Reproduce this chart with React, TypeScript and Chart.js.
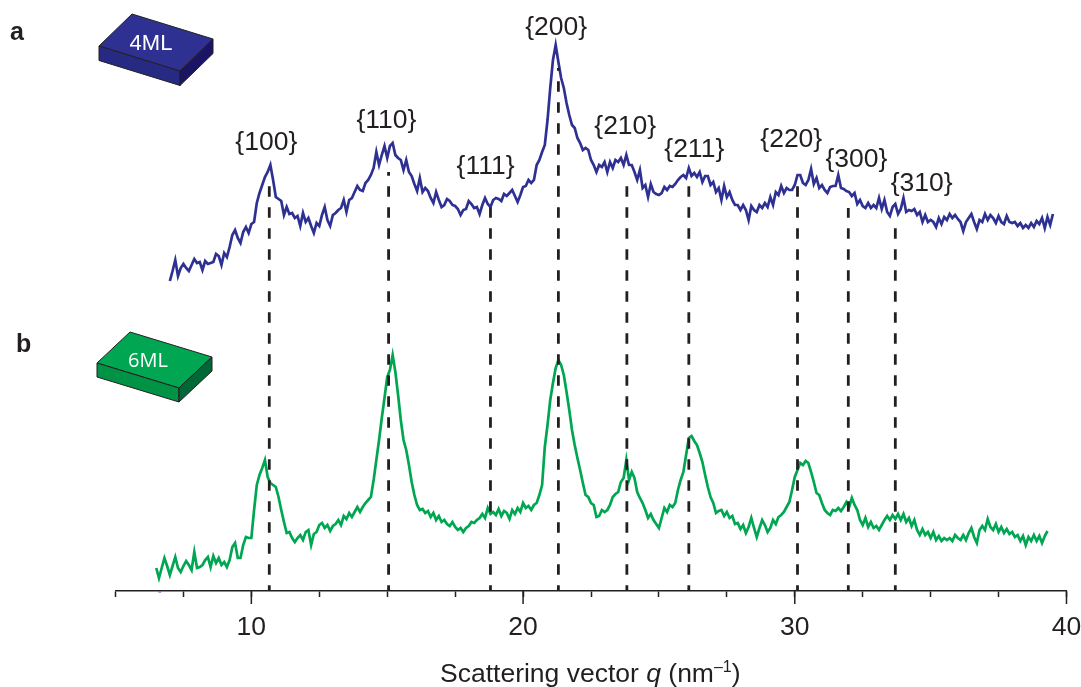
import React, { useEffect, useRef } from "react";
import { Chart, registerables } from "chart.js";

Chart.register(...registerables);

const FONT = '"Liberation Sans", Arial, sans-serif';
const INK = "#231f20";

const qGrid = [
  6.5, 6.6, 6.7, 6.8, 6.9,
  7.0, 7.1, 7.2, 7.3, 7.4, 7.5, 7.6, 7.7, 7.8, 7.9,
  8.0, 8.1, 8.2, 8.3, 8.4, 8.5, 8.6, 8.7, 8.8, 8.9,
  9.0, 9.1, 9.2, 9.3, 9.4, 9.5, 9.6, 9.7, 9.8, 9.9,
  10.0, 10.1, 10.2, 10.3, 10.4, 10.5, 10.6, 10.7, 10.8, 10.9,
  11.0, 11.1, 11.2, 11.3, 11.4, 11.5, 11.6, 11.7, 11.8, 11.9,
  12.0, 12.1, 12.2, 12.3, 12.4, 12.5, 12.6, 12.7, 12.8, 12.9,
  13.0, 13.1, 13.2, 13.3, 13.4, 13.5, 13.6, 13.7, 13.8, 13.9,
  14.0, 14.1, 14.2, 14.3, 14.4, 14.5, 14.6, 14.7, 14.8, 14.9,
  15.0, 15.1, 15.2, 15.3, 15.4, 15.5, 15.6, 15.7, 15.8, 15.9,
  16.0, 16.1, 16.2, 16.3, 16.4, 16.5, 16.6, 16.7, 16.8, 16.9,
  17.0, 17.1, 17.2, 17.3, 17.4, 17.5, 17.6, 17.7, 17.8, 17.9,
  18.0, 18.1, 18.2, 18.3, 18.4, 18.5, 18.6, 18.7, 18.8, 18.9,
  19.0, 19.1, 19.2, 19.3, 19.4, 19.5, 19.6, 19.7, 19.8, 19.9,
  20.0, 20.1, 20.2, 20.3, 20.4, 20.5, 20.6, 20.7, 20.8, 20.9,
  21.0, 21.1, 21.2, 21.3, 21.4, 21.5, 21.6, 21.7, 21.8, 21.9,
  22.0, 22.1, 22.2, 22.3, 22.4, 22.5, 22.6, 22.7, 22.8, 22.9,
  23.0, 23.1, 23.2, 23.3, 23.4, 23.5, 23.6, 23.7, 23.8, 23.9,
  24.0, 24.1, 24.2, 24.3, 24.4, 24.5, 24.6, 24.7, 24.8, 24.9,
  25.0, 25.1, 25.2, 25.3, 25.4, 25.5, 25.6, 25.7, 25.8, 25.9,
  26.0, 26.1, 26.2, 26.3, 26.4, 26.5, 26.6, 26.7, 26.8, 26.9,
  27.0, 27.1, 27.2, 27.3, 27.4, 27.5, 27.6, 27.7, 27.8, 27.9,
  28.0, 28.1, 28.2, 28.3, 28.4, 28.5, 28.6, 28.7, 28.8, 28.9,
  29.0, 29.1, 29.2, 29.3, 29.4, 29.5, 29.6, 29.7, 29.8, 29.9,
  30.0, 30.1, 30.2, 30.3, 30.4, 30.5, 30.6, 30.7, 30.8, 30.9,
  31.0, 31.1, 31.2, 31.3, 31.4, 31.5, 31.6, 31.7, 31.8, 31.9,
  32.0, 32.1, 32.2, 32.3, 32.4, 32.5, 32.6, 32.7, 32.8, 32.9,
  33.0, 33.1, 33.2, 33.3, 33.4, 33.5, 33.6, 33.7, 33.8, 33.9,
  34.0, 34.1, 34.2, 34.3, 34.4, 34.5, 34.6, 34.7, 34.8, 34.9,
  35.0, 35.1, 35.2, 35.3, 35.4, 35.5, 35.6, 35.7, 35.8, 35.9,
  36.0, 36.1, 36.2, 36.3, 36.4, 36.5, 36.6, 36.7, 36.8, 36.9,
  37.0, 37.1, 37.2, 37.3, 37.4, 37.5, 37.6, 37.7, 37.8, 37.9,
  38.0, 38.1, 38.2, 38.3, 38.4, 38.5, 38.6, 38.7, 38.8, 38.9,
  39.0, 39.1, 39.2, 39.3, 39.4, 39.5,
];

const intensity4ML = [
  null, null, null, null, null,
  310, 320, 331, 315, 323, 327, 323, 320, 326, 332,
  328, 329, 321, 330, 327, 328, 329, 337, 335, 326,
  338, 334, 344, 356, 361, 353, 348, 359, 364, 358,
  367, 369, 388, 398, 406, 414, 419, 426, 411, 394,
  392, 390, 376, 384, 377, 378, 373, 375, 365, 378,
  369, 373, 365, 358, 368, 365, 376, 384, 371, 365,
  376, 378, 381, 383, 391, 379, 391, 393, 399, 405,
  401, 400, 408, 411, 416, 423, 439, 426, 436, 445,
  433, 445, 448, 436, 433, 431, 421, 431, 419, 415,
  407, 400, 413, 399, 403, 400, 393, 388, 399, 391,
  384, 386, 392, 390, 386, 385, 382, 376, 381, 382,
  390, 387, 383, 384, 377, 386, 393, 387, 384, 391,
  393, 392, 390, 397, 395, 398, 401, 395, 389, 396,
  404, 405, 411, 408, 411, 426, 431, 439, 446, 471,
  503, 531, 546, 529, 513, 503, 488, 476, 466, 463,
  453, 448, 441, 443, 441, 431, 426, 419, 426, 424,
  429, 419, 429, 423, 431, 429, 433, 426, 436, 426,
  426, 419, 411, 421, 403, 406, 394, 407, 399, 397,
  396, 398, 404, 401, 405, 404, 407, 411, 414, 416,
  413, 423, 415, 418, 414, 419, 409, 415, 415, 406,
  409, 399, 403, 391, 405, 394, 399, 391, 386, 386,
  381, 386, 381, 371, 385, 381, 379, 386, 383, 388,
  384, 394, 386, 399, 396, 405, 398, 403, 401, 401,
  406, 416, 416, 408, 406, 411, 422, 407, 413, 403,
  406, 401, 398, 404, 405, 405, 416, 403, 402, 400,
  399, 395, 398, 387, 391, 385, 383, 388, 383, 386,
  383, 393, 382, 391, 379, 375, 384, 387, 377, 382,
  393, 379, 381, 380, 382, 376, 379, 369, 376, 369,
  371, 369, 364, 373, 367, 374, 371, 377, 373, 376,
  372, 369, 360, 369, 373, 377, 369, 362, 371, 369,
  377, 371, 376, 373, 368, 375, 369, 367, 375, 369,
  368, 369, 365, 368, 363, 366, 363, 368, 364, 370,
  367, 373, 363, 374, 366, 377,
];

const intensity6ML = [
  23, 13, 23, 33, 25,
  16, 25, 34, 23, 19, 25, 30, 26, 21, 39,
  23, 24, 26, 31, 34, 24, 35, 28, 33, 26,
  29, 24, 31, 44, 48, 33, 33, 46, 54, 53,
  53, 81, 106, 116, 123, 131, 114, 108, 106, 104,
  94, 81, 69, 58, 59, 53, 49, 53, 56, 51,
  59, 61, 46, 57, 59, 66, 68, 63, 66, 60,
  65, 67, 71, 66, 75, 72, 78, 74, 79, 84,
  79, 84, 88, 91, 94, 111, 131, 151, 173, 193,
  214, 221, 236, 219, 196, 171, 151, 141, 126, 109,
  96, 86, 81, 82, 78, 80, 74, 78, 71, 75,
  69, 71, 67, 65, 69, 64, 61, 63, 59, 63,
  65, 69, 68, 71, 73, 77, 73, 83, 77, 79,
  76, 82, 75, 80, 78, 72, 81, 77, 83, 79,
  88, 83, 85, 81, 86, 88, 96, 106, 144, 166,
  191, 208, 223, 231, 226, 216, 199, 181, 161, 146,
  133, 121, 108, 96, 94, 88, 86, 74, 75, 81,
  79, 81, 86, 94, 97, 99, 109, 113, 131, 111,
  119, 113, 99, 93, 88, 81, 73, 77, 71, 67,
  63, 73, 83, 79, 86, 84, 88, 101, 111, 119,
  136, 153, 155, 150, 146, 138, 129, 116, 104, 94,
  88, 78, 80, 81, 75, 79, 73, 75, 67, 68,
  62, 66, 58, 64, 73, 63, 54, 63, 71, 66,
  59, 63, 71, 67, 74, 76, 79, 84, 89, 101,
  114, 121, 128, 126, 130, 128, 119, 109, 98, 96,
  88, 81, 78, 76, 81, 80, 83, 80, 84, 89,
  84, 93, 86, 81, 71, 66, 73, 64, 69, 63,
  65, 61, 66, 71, 75, 71, 76, 72, 77, 71,
  77, 69, 73, 65, 71, 61, 56, 62, 56, 59,
  53, 59, 51, 55, 50, 53, 51, 53, 50, 56,
  53, 51, 56, 51, 58, 63, 54, 48, 61, 65,
  61, 72, 64, 61, 67, 59, 64, 58, 62, 57,
  59, 54, 56, 50, 55, 46, 54, 50, 56, 50,
  55, 48, 55, 60, null, null,
];

const reflectionLabels = ["{100}", "{110}", "{111}", "{200}", "{210}", "{211}", "{220}", "{300}", "{310}"];
const reflectionQ = [10.66, 15.05, 18.8, 21.3, 23.82, 26.1, 30.1, 31.97, 33.7];
const reflectionTop = [406, 419, 386, 523, 413, 408, 409, 383, 368];
const labelQ = [10.55, 14.97, 18.62, 21.22, 23.76, 26.3, 29.87, 32.27, 34.67];
const labelI = [448, 470, 424, 563, 464, 441, 451, 431, 407];
const majorTicks = [10, 20, 30, 40];
const speckQ = [6.58, 6.68];
const speckI = [-1, -1];

const blocks = [
  {
    name: "4ML",
    top: "#2e3192", left: "#272a82", right: "#1b1464",
    tl: [99, 46], tb: [132, 14], tr: [213, 39], tf: [180, 71], drop: 14.5,
    text: [151, 44], font: `22px ${FONT}`,
  },
  {
    name: "6ML",
    top: "#00a651", left: "#009245", right: "#006837",
    tl: [97, 363], tb: [130, 332], tr: [212, 357], tf: [179, 388], drop: 14,
    text: [148, 361], font: `20px "Open Sans", ${FONT}`,
  },
];

const panelLetters = [
  { t: "a", x: 10, y: 40 },
  { t: "b", x: 16, y: 352 },
];

const toPoints = (ys: (number | null)[]) =>
  ys.flatMap((y, i) => (y === null ? [] : [{ x: qGrid[i], y }]));

const decorPlugin = {
  id: "decor",
  afterDatasetsDraw(chart: any) {
    const { ctx, scales } = chart;
    const x = scales.x;
    const y = scales.y;
    ctx.save();

    // longer major ticks
    ctx.strokeStyle = INK;
    ctx.lineWidth = 1.5;
    const y0 = y.getPixelForValue(0);
    for (const m of majorTicks) {
      const px = x.getPixelForValue(m);
      ctx.beginPath();
      ctx.moveTo(px, y0);
      ctx.lineTo(px, y0 + 13);
      ctx.stroke();
    }

    // reflection labels
    ctx.fillStyle = INK;
    ctx.font = `26.5px ${FONT}`;
    ctx.textAlign = "center";
    ctx.textBaseline = "middle";
    reflectionLabels.forEach((l, i) => {
      ctx.fillText(l, x.getPixelForValue(labelQ[i]), y.getPixelForValue(labelI[i]));
    });

    // panel letters
    ctx.textAlign = "left";
    ctx.textBaseline = "alphabetic";
    ctx.font = `bold 25px ${FONT}`;
    for (const p of panelLetters) ctx.fillText(p.t, p.x, p.y);

    // blocks
    for (const b of blocks) {
      const poly = (pts: number[][], fill: string) => {
        ctx.beginPath();
        pts.forEach((p, i) => (i ? ctx.lineTo(p[0], p[1]) : ctx.moveTo(p[0], p[1])));
        ctx.closePath();
        ctx.fillStyle = fill;
        ctx.fill();
        ctx.strokeStyle = INK;
        ctx.lineWidth = 1;
        ctx.lineJoin = "round";
        ctx.stroke();
      };
      const d = (p: number[]) => [p[0], p[1] + b.drop];
      poly([b.tl, b.tb, b.tr, b.tf], b.top);
      poly([b.tl, b.tf, d(b.tf), d(b.tl)], b.left);
      poly([b.tf, b.tr, d(b.tr), d(b.tf)], b.right);
      ctx.fillStyle = "#ffffff";
      ctx.font = b.font;
      ctx.textAlign = "center";
      ctx.textBaseline = "middle";
      ctx.fillText(b.name, b.text[0], b.text[1]);
    }

    // axis title with italic q and superscript
    ctx.fillStyle = INK;
    ctx.textAlign = "left";
    ctx.textBaseline = "alphabetic";
    const base = 682;
    let cx = 440;
    const run = (s: string, font: string, dy = 0) => {
      ctx.font = font;
      ctx.fillText(s, cx, base + dy);
      cx += ctx.measureText(s).width;
    };
    run("Scattering vector ", `26.5px ${FONT}`);
    run("q", `italic 26.5px ${FONT}`);
    run(" (nm", `26.5px ${FONT}`);
    run("–1", `16px ${FONT}`, -10);
    run(")", `26.5px ${FONT}`);
    ctx.restore();
  },
};

export default function App() {
  const ref = useRef<HTMLCanvasElement | null>(null);

  useEffect(() => {
    document.body.style.margin = "0";
    const canvas = ref.current!;
    const dashSets = reflectionQ.map((q, i) => ({
      label: reflectionLabels[i] + " guide",
      data: [
        { x: q, y: 0 },
        { x: q, y: reflectionTop[i] },
      ],
      borderColor: INK,
      borderWidth: 2.8,
      borderDash: [10.5, 10.5],
      borderDashOffset: 4.8,
      pointRadius: 0,
      order: 0,
    }));
    const chart = new Chart(canvas, {
      type: "line",
      data: {
        datasets: [
          ...dashSets,
          {
            label: "4ML",
            data: toPoints(intensity4ML),
            borderColor: "#2e3192",
            borderWidth: 2.7,
            pointRadius: 0,
            tension: 0,
            order: 2,
          },
          {
            label: "6ML",
            data: toPoints(intensity6ML),
            borderColor: "#00a651",
            borderWidth: 2.7,
            pointRadius: 0,
            tension: 0,
            order: 2,
          },
          {
            label: "speck",
            data: speckQ.map((q, i) => ({ x: q, y: speckI[i] })),
            borderColor: "#4472c4",
            borderWidth: 1.2,
            pointRadius: 0,
            clip: false,
            order: 2,
          },
        ] as any,
      },
      options: {
        responsive: false,
        animation: false,
        layout: { padding: { left: 115.5, right: 2.5, top: 0, bottom: 0 } },
        plugins: { legend: { display: false }, tooltip: { enabled: false }, title: { display: false } },
        scales: {
          x: {
            type: "linear",
            min: 5,
            max: 40,
            afterFit: (s: any) => {
              s.height = 96;
              s.paddingRight = 14.5;
            },
            border: { color: INK, width: 1.5 },
            grid: { drawOnChartArea: false, color: INK, tickLength: 6, tickWidth: 1.5 },
            ticks: {
              stepSize: 2.5,
              autoSkip: false,
              maxRotation: 0,
              padding: 15,
              color: INK,
              font: { family: "Liberation Sans", size: 26.5 },
              callback: (v: any) => (majorTicks.includes(Number(v)) ? String(v) : ""),
            },
          },
          y: { type: "linear", min: 0, max: 591, display: false },
        },
      } as any,
      plugins: [decorPlugin],
    });
    return () => chart.destroy();
  }, []);

  return (
    <canvas
      ref={ref}
      width={1081}
      height={687}
      style={{ display: "block", position: "absolute", left: 0, top: 0, width: 1081, height: 687 }}
    />
  );
}
